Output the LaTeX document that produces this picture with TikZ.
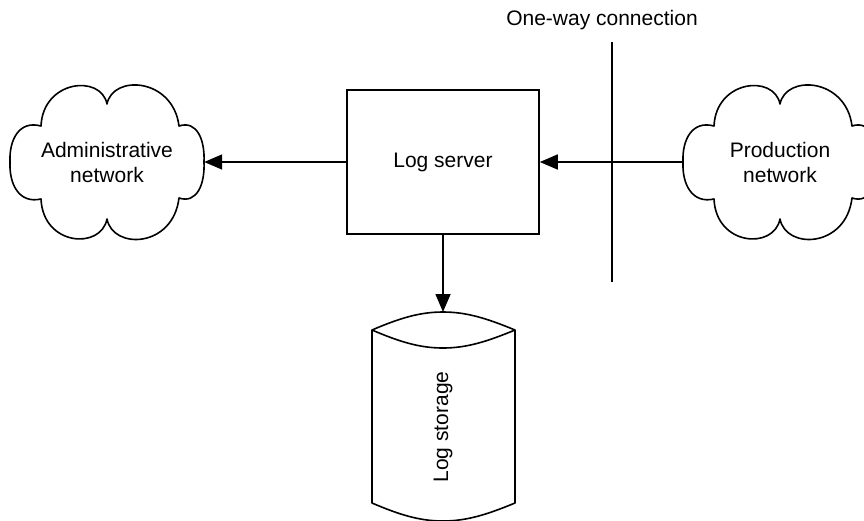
\documentclass[tikz,border=0pt]{standalone}
\usepackage{fontspec}
\setmainfont{Liberation Sans}
\usetikzlibrary{arrows.meta}
\begin{document}
\begin{tikzpicture}[x=1pt,y=-1pt,
  lw/.style={line width=1.6pt},
  arr/.style={lw,-{Triangle[length=18pt,width=15pt]}},
  lbl/.style={font=\fontsize{21}{25}\selectfont,align=center,inner sep=0pt},
  cloudnode/.style={lbl,minimum width=194pt,minimum height=150pt},
  boxnode/.style={lbl,draw,lw,minimum width=192pt,minimum height=144pt}
]
\useasboundingbox (0,0) rectangle (864,520);
\newcommand\cloudat[1]{%
  \draw[lw,line join=round,shift={(#1)}]
    (-97,0) .. controls (-98,-22) and (-88,-42) .. (-66,-36)
    .. controls (-64,-82) and (-6,-88) .. (0,-58)
    .. controls (6,-88) and (66,-84) .. (72,-36)
    .. controls (90,-42) and (98,-22) .. (97,0)
    .. controls (98,22) and (90,42) .. (72,36)
    .. controls (66,86) and (6,88) .. (0,57)
    .. controls (-6,88) and (-64,84) .. (-66,37)
    .. controls (-88,42) and (-98,22) .. (-97,0) -- cycle;}

\node[cloudnode] (admin) at (107,162) {Administrative\\network};
\cloudat{admin.center}
\node[cloudnode] (prod) at (780,162) {Production\\network};
\cloudat{prod.center}

\node[boxnode] (server) at (443,162) {Log server};

% one-way connection
\coordinate (vt) at (612,42);
\coordinate (vb) at (612,282);
\draw[lw] (vt) -- (vb);
\node[lbl] (owc) at (602,20) {One-way connection};

% storage cylinder
\coordinate (ctop) at (443,312);
\draw[lw,line join=round]
  (372,330) .. controls (400,318) and (420,312) .. (ctop)
  .. controls (466,312) and (486,318) .. (515,330)
  -- (515,503) .. controls (486,515) and (466,521) .. (443,521)
  .. controls (420,521) and (400,515) .. (372,503) -- cycle;
\draw[lw] (372,330) .. controls (400,342) and (420,348) .. (443,348)
  .. controls (466,348) and (486,342) .. (515,330);
\node[lbl,rotate=90] (storage) at (443,427) {Log storage};

% connectors
\draw[arr] (server.west) -- (admin.east);
\draw[arr] (prod.west) -- (server.east);
\draw[arr] (server.south) -- (ctop);
\end{tikzpicture}
\end{document}
